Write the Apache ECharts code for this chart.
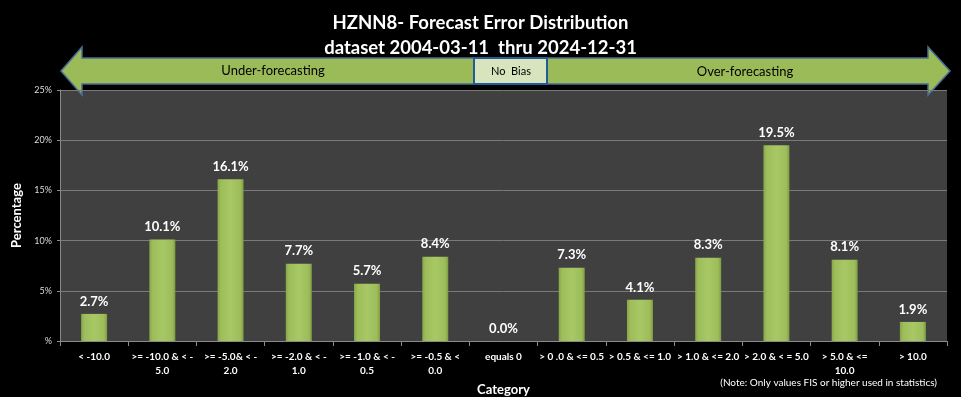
<!DOCTYPE html>
<html>
<head>
<meta charset="utf-8">
<script src="https://cdn.jsdelivr.net/npm/echarts@6/dist/echarts.min.js"></script>
<style>
  html, body { margin: 0; padding: 0; background: #000; }
  #chart { width: 961px; height: 397px; }
</style>
</head>
<body>
<div id="chart"></div>
<script>
var categories = [
    '< -10.0', '>= -10.0 & < -\n5.0', '>= -5.0& < -\n2.0', '>= -2.0 & < -\n1.0',
    '>= -1.0 & < -\n0.5', '>= -0.5 & <\n0.0', 'equals 0', '> 0 .0 & <= 0.5',
    '> 0.5 & <= 1.0', '> 1.0 & <= 2.0', '> 2.0 & < = 5.0', '> 5.0 & <=\n10.0', '> 10.0'
];
var percentages = [2.7, 10.1, 16.1, 7.7, 5.7, 8.4, 0.0, 7.3, 4.1, 8.3, 19.5, 8.1, 1.9];
var yTicks = [0, 5, 10, 15, 20, 25];

var chart = echarts.init(document.getElementById('chart'), null, {renderer: 'canvas'});

var font = 'Lato, "Open Sans", sans-serif';
var arrowFill = '#9BBB59';
var arrowLine = '#4A6E96';

chart.setOption({
    backgroundColor: '#000',
    animation: false,
    textStyle: {fontFamily: font},
    title: {
        text: 'HZNN8- Forecast Error Distribution\ndataset 2004-03-11  thru 2024-12-31',
        left: 'center',
        top: 6,
        textStyle: {color: '#fff', fontSize: 18.5, fontWeight: 'bold', lineHeight: 25, fontFamily: font}
    },
    grid: {
        left: 60, right: 14, top: 90, bottom: 56,
        show: true, backgroundColor: '#404040', borderWidth: 0,
        outerBoundsMode: 'none'
    },
    xAxis: {
        type: 'category',
        data: categories,
        name: 'Category',
        nameLocation: 'middle',
        nameGap: 39,
        nameTextStyle: {color: '#fff', fontSize: 13, fontWeight: 'bold'},
        axisLine: {lineStyle: {color: '#8a8a8a'}},
        axisTick: {show: true, length: 5, lineStyle: {color: '#8a8a8a'}},
        axisLabel: {color: '#fff', fontSize: 10, fontWeight: 'bold', interval: 0, lineHeight: 14, margin: 9}
    },
    yAxis: {
        type: 'value',
        min: 0,
        max: 25,
        interval: 5,
        name: 'Percentage',
        nameLocation: 'middle',
        nameGap: 36,
        nameRotate: 90,
        nameTextStyle: {color: '#fff', fontSize: 13, fontWeight: 'bold'},
        axisLine: {show: true, lineStyle: {color: '#8a8a8a'}},
        axisTick: {show: true, length: 3, lineStyle: {color: '#8a8a8a'}},
        splitLine: {lineStyle: {color: '#7a7a7a', width: 1}},
        axisLabel: {
            color: '#ddd', fontSize: 9, margin: 8,
            formatter: function (v) { return v === yTicks[0] ? '%' : v + '%'; }
        }
    },
    series: [{
        type: 'bar',
        data: percentages,
        barWidth: 26,
        itemStyle: {
            color: new echarts.graphic.LinearGradient(0, 0, 1, 0, [
                {offset: 0, color: '#86A548'},
                {offset: 0.12, color: '#9DBD5B'},
                {offset: 0.5, color: '#A8C866'},
                {offset: 0.88, color: '#9DBD5B'},
                {offset: 1, color: '#7E9C43'}
            ]),
            borderColor: '#C4DC8A',
            borderWidth: 0
        },
        label: {
            show: true,
            position: 'top',
            distance: 6,
            color: '#fff',
            fontSize: 13,
            fontWeight: 'bold',
            formatter: function (p) { return p.value.toFixed(1) + '%'; }
        }
    }],
    graphic: [
        {
            type: 'polygon',
            shape: {points: [[61, 71], [82, 47], [82, 58], [928, 58], [928, 47], [950, 71], [928, 95], [928, 84], [82, 84], [82, 95]]},
            style: {fill: arrowFill, stroke: arrowLine, lineWidth: 1.5}
        },
        {
            type: 'rect',
            shape: {x: 474, y: 58, width: 73, height: 26},
            style: {fill: '#D7E4BD', stroke: '#1F5C99', lineWidth: 2}
        },
        {
            type: 'text',
            style: {text: 'Under-forecasting', x: 273, y: 71, align: 'center', verticalAlign: 'middle', fill: '#000', font: '13px ' + font}
        },
        {
            type: 'text',
            style: {text: 'No  Bias', x: 511, y: 71, align: 'center', verticalAlign: 'middle', fill: '#000', font: '11px ' + font}
        },
        {
            type: 'text',
            style: {text: 'Over-forecasting', x: 745, y: 72, align: 'center', verticalAlign: 'middle', fill: '#000', font: '13px ' + font}
        },
        {
            type: 'text',
            style: {text: '(Note: Only values FIS or higher used in statistics)', x: 937, y: 383, align: 'right', verticalAlign: 'middle', fill: '#fff', font: '10px ' + font}
        }
    ]
});
</script>
</body>
</html>
